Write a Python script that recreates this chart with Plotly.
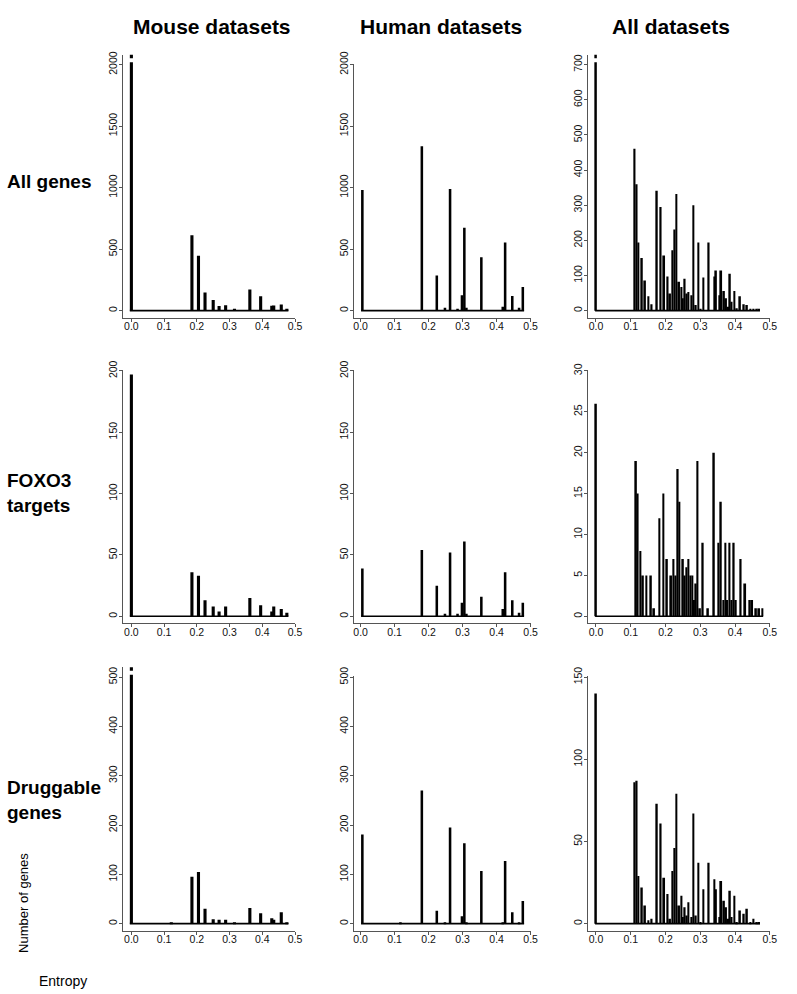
import plotly.graph_objects as go

W, H = 797, 994

# ---------------- data ----------------
x_tick_vals = [0.0, 0.1, 0.2, 0.3, 0.4, 0.5]
x_tick_text = ["0.0", "0.1", "0.2", "0.3", "0.4", "0.5"]

col_titles = ["Mouse datasets", "Human datasets", "All datasets"]
row_titles = ["All genes", "FOXO3<br>targets", "Druggable<br>genes"]

# Mouse datasets
mouse_all_x = [0.0, 0.185, 0.205, 0.225, 0.25, 0.268, 0.288, 0.315, 0.362, 0.395, 0.429, 0.435, 0.458, 0.475]
mouse_all_y = [2600, 613, 447, 147, 86, 37, 43, 8, 171, 118, 40, 42, 50, 10]
mouse_foxo_x = [0.0, 0.185, 0.205, 0.225, 0.25, 0.268, 0.288, 0.362, 0.395, 0.429, 0.435, 0.458, 0.475]
mouse_foxo_y = [197, 36, 33, 13, 8, 4, 8, 15, 9, 4, 8, 6, 3]
mouse_drug_x = [0.0, 0.122, 0.185, 0.205, 0.225, 0.25, 0.268, 0.288, 0.315, 0.362, 0.395, 0.429, 0.435, 0.458, 0.475]
mouse_drug_y = [560, 2, 95, 105, 30, 9, 8, 8, 2, 32, 21, 11, 8, 23, 3]

# Human datasets
human_all_x = [0.005, 0.18, 0.224, 0.248, 0.263, 0.285, 0.298, 0.305, 0.311, 0.355, 0.418, 0.425, 0.446, 0.466, 0.477]
human_all_y = [980, 1336, 286, 24, 990, 11, 126, 675, 24, 434, 32, 554, 120, 24, 193]
human_foxo_x = [0.005, 0.18, 0.224, 0.248, 0.263, 0.285, 0.298, 0.305, 0.311, 0.355, 0.418, 0.425, 0.446, 0.466, 0.477]
human_foxo_y = [39, 54, 25, 2, 52, 2, 11, 61, 2, 16, 6, 36, 13, 3, 11]
human_drug_x = [0.005, 0.117, 0.18, 0.224, 0.248, 0.263, 0.298, 0.305, 0.311, 0.355, 0.418, 0.425, 0.446, 0.466, 0.477]
human_drug_y = [181, 1, 270, 26, 1, 195, 15, 163, 3, 107, 3, 127, 23, 3, 46]

# All datasets
all_x = [0.0, 0.111, 0.117, 0.122, 0.132, 0.141, 0.151, 0.160, 0.175, 0.186, 0.196, 0.206,
         0.213, 0.220, 0.226, 0.231, 0.239, 0.246, 0.250, 0.255, 0.261, 0.266, 0.275, 0.280,
         0.287, 0.294, 0.301, 0.309, 0.324, 0.340, 0.345, 0.355, 0.360, 0.368, 0.374, 0.380,
         0.385, 0.390, 0.398, 0.405, 0.414, 0.425, 0.434, 0.444, 0.453, 0.462, 0.469]
all_all_y = [760, 461, 360, 194, 150, 86, 41, 18, 341, 295, 157, 97,
             49, 172, 231, 332, 82, 67, 35, 91, 49, 53, 44, 300,
             16, 194, 5, 94, 194, 97, 114, 44, 114, 56, 35, 11,
             105, 25, 56, 7, 41, 18, 16, 5, 5, 5, 4]
all_drug_y = [140, 86, 87, 29, 22, 11, 2, 3, 73, 61, 28, 18,
              3, 32, 46, 79, 11, 17, 4, 10, 5, 13, 4, 67,
              5, 37, 1, 21, 37, 27, 21, 4, 26, 14, 10, 3,
              20, 4, 17, 1, 8, 6, 9, 1, 3, 1, 1]
all_foxo_x = [0.0, 0.115, 0.120, 0.128, 0.135, 0.145, 0.158, 0.167, 0.182, 0.194, 0.204,
              0.216, 0.223, 0.229, 0.235, 0.240, 0.250, 0.255, 0.260, 0.266, 0.272, 0.277,
              0.282, 0.287, 0.292, 0.299, 0.307, 0.322, 0.339, 0.352, 0.359, 0.366, 0.372,
              0.377, 0.384, 0.390, 0.396, 0.402, 0.416, 0.429, 0.442, 0.449, 0.460, 0.469, 0.478]
all_foxo_y = [26, 19, 15, 8, 5, 5, 5, 1, 12, 15, 7,
              5, 7, 5, 18, 14, 7, 5, 6, 7, 5, 5,
              2, 4, 19, 1, 9, 1, 20, 9, 14, 2, 9,
              2, 9, 2, 9, 2, 7, 4, 2, 2, 1, 1, 1]

yticks_mh = [[0, 500, 1000, 1500, 2000], [0, 50, 100, 150, 200], [0, 100, 200, 300, 400, 500]]
yticks_all = [[0, 100, 200, 300, 400, 500, 600, 700], [0, 5, 10, 15, 20, 25, 30], [0, 50, 100, 150]]

panels = [
    [(mouse_all_x, mouse_all_y, yticks_mh[0]), (human_all_x, human_all_y, yticks_mh[0]), (all_x, all_all_y, yticks_all[0])],
    [(mouse_foxo_x, mouse_foxo_y, yticks_mh[1]), (human_foxo_x, human_foxo_y, yticks_mh[1]), (all_foxo_x, all_foxo_y, yticks_all[1])],
    [(mouse_drug_x, mouse_drug_y, yticks_mh[2]), (human_drug_x, human_drug_y, yticks_mh[2]), (all_x, all_drug_y, yticks_all[2])],
]
bar_widths = [0.0095, 0.0075, 0.005]

# ---------------- layout geometry (pixels) ----------------
col_px = [(123.0, 131.7, 297.0), (357.0, 363.3, 535.0), (593.3, 601.0, 776.7)]  # y-axis line, x=0, x=0.5
row_px = [(53.3, 302.3), (363.3, 611.7), (673.3, 922.8)]  # y max tick, y zero

fig = go.Figure()
layout = dict(width=W, height=H, margin=dict(l=0, r=0, t=0, b=0),
              paper_bgcolor="white", plot_bgcolor="white", showlegend=False)

tick_font = dict(family="Liberation Sans, Arial, sans-serif", size=10.5, color="#111")
axis_col = "#555"

k = 0
for r in range(3):
    for c in range(3):
        k += 1
        xs, ys, yt = panels[r][c]
        w = bar_widths[c]
        yax_px, x0_px, x5_px = col_px[c]
        top_px, zero_px = row_px[r]
        ymax = yt[-1]
        sx = (x5_px - x0_px) / 0.5
        sy = (zero_px - top_px) / ymax
        broken = max(ys) > ymax
        dom_top_px = top_px - (10 if broken else 1)
        dom_bot_px = zero_px + 7
        xname = "x" if k == 1 else f"x{k}"
        yname = "y" if k == 1 else f"y{k}"
        xkey = "xaxis" if k == 1 else f"xaxis{k}"
        ykey = "yaxis" if k == 1 else f"yaxis{k}"
        layout[xkey] = dict(domain=[yax_px / W, x5_px / W], anchor=yname,
                            range=[-(x0_px - yax_px) / sx, 0.5],
                            tickvals=x_tick_vals, ticktext=x_tick_text,
                            showline=True, linecolor=axis_col, linewidth=1,
                            ticks="outside", ticklen=3, tickcolor=axis_col,
                            ticklabelstandoff=-4,
                            tickfont=tick_font, showgrid=False, zeroline=False,
                            fixedrange=True)
        layout[ykey] = dict(domain=[1 - dom_bot_px / H, 1 - dom_top_px / H], anchor=xname,
                            range=[-(dom_bot_px - zero_px) / sy, ymax + (top_px - dom_top_px) / sy],
                            tickvals=yt, ticktext=[str(v) for v in yt], tickangle=-90,
                            showline=True, linecolor=axis_col, linewidth=1,
                            ticks="outside", ticklen=3, tickcolor=axis_col,
                            ticklabelstandoff=-2,
                            tickfont=tick_font, showgrid=False, zeroline=False,
                            fixedrange=True)
        # baseline under bars
        fig.add_trace(go.Scatter(x=[min(xs) - w / 2, max(xs) + w / 2], y=[0, 0], mode="lines",
                                 line=dict(color="black", width=1.6), xaxis=xname, yaxis=yname,
                                 hoverinfo="skip"))
        fig.add_trace(go.Bar(x=xs, y=ys, width=w, marker=dict(color="black", line=dict(width=0)),
                             xaxis=xname, yaxis=yname))
        if broken:
            bx = [xs[i] for i in range(len(xs)) if ys[i] > ymax]
            fig.add_trace(go.Scatter(x=bx, y=[ymax + 4.5 / sy] * len(bx), mode="markers",
                                     marker=dict(symbol="line-ew", size=12,
                                                 line=dict(color="white", width=4)),
                                     xaxis=xname, yaxis=yname, hoverinfo="skip"))

ann = []
col_centers = [213, 444, 677]
for c, t in enumerate(col_titles):
    ann.append(dict(text=t, x=col_centers[c] / W, y=1 - 15 / H, xref="paper", yref="paper",
                    showarrow=False, xanchor="center", yanchor="middle",
                    font=dict(family="Liberation Sans Narrow, Arial Narrow, Liberation Sans, Arial",
                              size=21, color="black", weight="bold")))
row_centers = [172, 487, 798]
for r, t in enumerate(row_titles):
    ann.append(dict(text="<b>" + t + "</b>", x=4 / W, y=1 - row_centers[r] / H, xref="paper", yref="paper",
                    showarrow=False, xanchor="left", yanchor="middle", align="left",
                    font=dict(family="Liberation Sans, Arial, sans-serif", size=19, color="black")))
ann.append(dict(text="Number of genes", x=22 / W, y=1 - 902 / H, xref="paper", yref="paper",
                showarrow=False, textangle=-90, xanchor="center", yanchor="middle",
                font=dict(family="Liberation Sans, Arial, sans-serif", size=13, color="black")))
ann.append(dict(text="Entropy", x=63 / W, y=1 - 981 / H, xref="paper", yref="paper",
                showarrow=False, xanchor="center", yanchor="middle",
                font=dict(family="Liberation Sans, Arial, sans-serif", size=14, color="black")))
layout["annotations"] = ann

fig.update_layout(**layout)
fig.write_html("out.html", config={"displayModeBar": False},
               post_script="document.body.style.margin='0px';document.body.style.overflow='hidden';")
